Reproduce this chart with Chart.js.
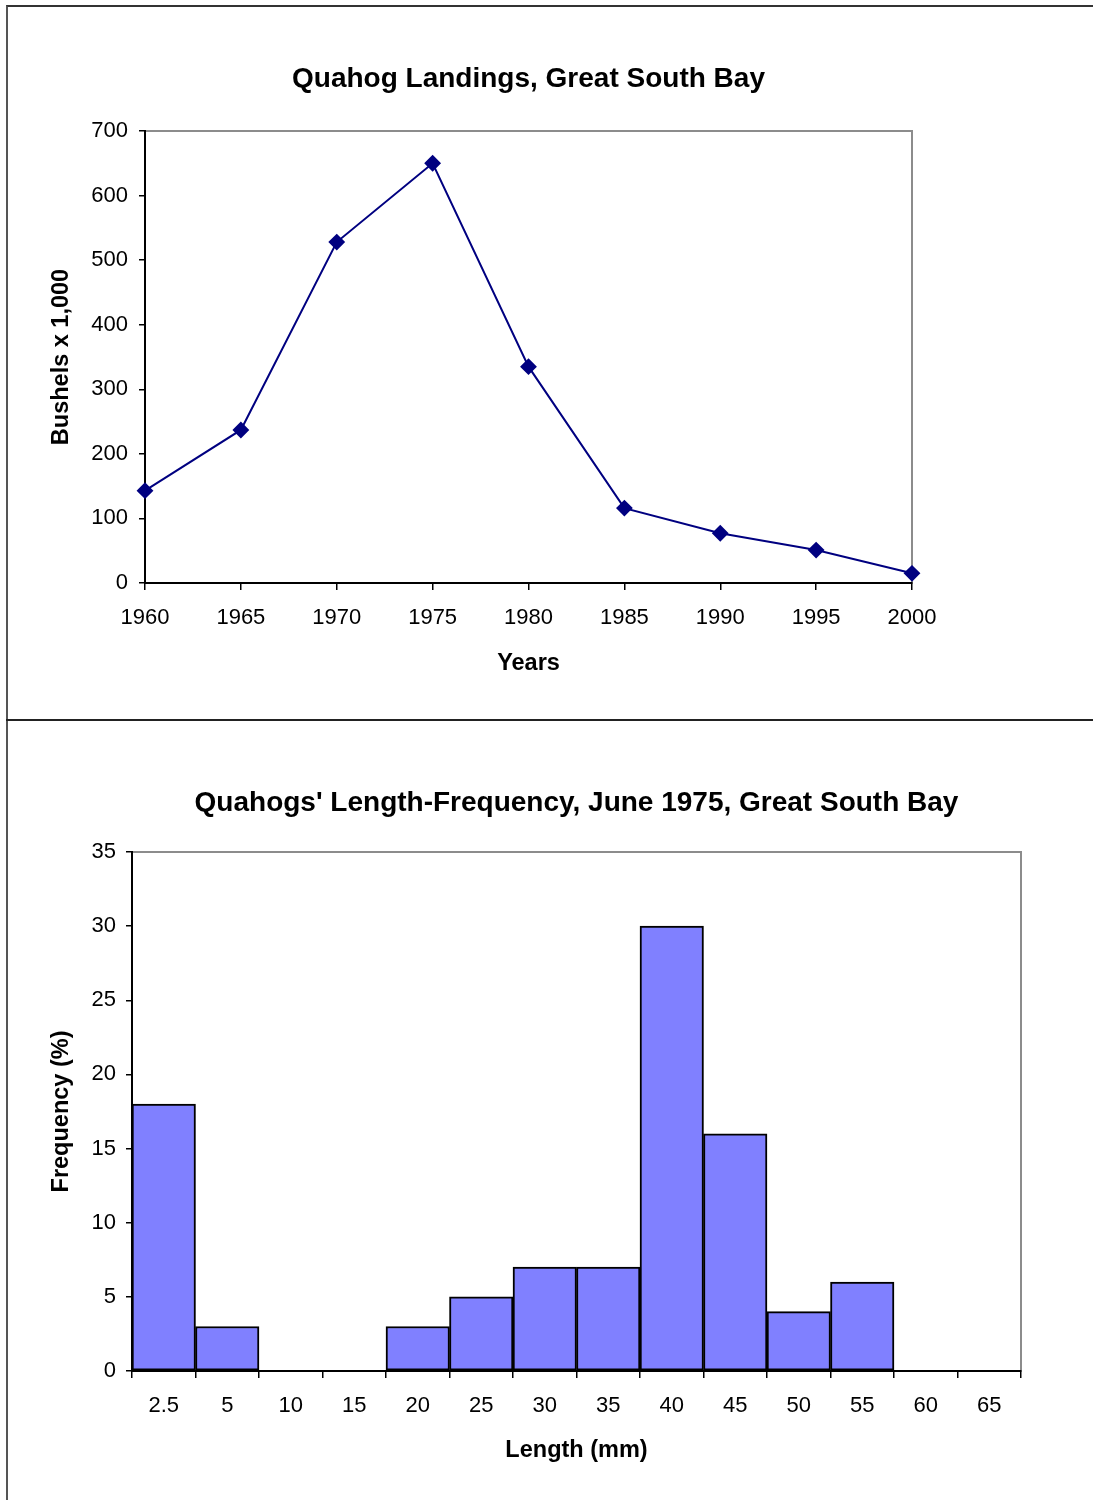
<!DOCTYPE html>
<html>
<head>
<meta charset="utf-8">
<script src="https://cdn.jsdelivr.net/npm/chart.js@4"></script>
<style>
  html, body { margin: 0; padding: 0; background: #fff; }
  body { width: 1093px; height: 1500px; position: relative; overflow: hidden; }
  .frame { position: absolute; left: 6px; top: 5px; width: 1100px; height: 1500px;
           border-top: 2px solid #333; border-left: 2px solid #555; box-sizing: border-box; }
  .divider { position: absolute; left: 6px; top: 719px; width: 1100px; height: 0;
             border-top: 2px solid #222; }
  canvas { position: absolute; left: 0; }
  #landings { top: 0; }
  #lengths { top: 720px; }
</style>
</head>
<body>
<div class="frame"></div>
<div class="divider"></div>
<canvas id="landings" width="1093" height="720"></canvas>
<canvas id="lengths" width="1093" height="780"></canvas>
<script>
// Landings per year (bushels x 1,000)
const years = ["1960", "1965", "1970", "1975", "1980", "1985", "1990", "1995", "2000"]
const landings = [143, 237, 528, 650, 335, 116, 77, 51, 15]

// Length-frequency, June 1975
const lengthBins = ["2.5", "5", "10", "15", "20", "25", "30", "35", "40", "45", "50", "55", "60", "65"]
const frequency = [18, 3, 0, 0, 3, 5, 7, 7, 30, 16, 4, 6, 0, 0]

const FONT = "'Liberation Sans', Arial, sans-serif"

// grey box round the plot area, axes are drawn over it in black
const plotFrame = {
  id: "plotFrame",
  beforeDraw(chart) {
    const { ctx, chartArea: a } = chart
    ctx.save()
    ctx.strokeStyle = "#8c8c8c"
    ctx.lineWidth = 2
    ctx.strokeRect(a.left, a.top, a.right - a.left, a.bottom - a.top)
    ctx.restore()
  }
}

function axisTitle(text, padding) {
  return { display: true, text, color: "#000", font: { family: FONT, size: 23.5, weight: "bold" }, padding }
}

function tickFont() {
  return { family: FONT, size: 22 }
}

new Chart(document.getElementById("landings"), {
  type: "line",
  data: {
    labels: years,
    datasets: [{
      data: landings,
      borderColor: "#000080",
      backgroundColor: "#000080",
      borderWidth: 2,
      pointStyle: "rectRot",
      pointRadius: 7,
      pointHoverRadius: 7,
      tension: 0,
      clip: false
    }]
  },
  options: {
    responsive: false,
    animation: false,
    layout: { padding: { top: 62, right: 181, bottom: 0, left: 0 } },
    plugins: {
      legend: { display: false },
      tooltip: { enabled: false },
      title: {
        display: true,
        fullSize: false,
        text: "Quahog Landings, Great South Bay",
        color: "#000",
        font: { family: FONT, size: 28, weight: "bold" },
        padding: { top: 0, bottom: 35.4 }
      }
    },
    scales: {
      x: {
        offset: false,
        afterFit: s => { s.height = 137 },
        grid: { drawOnChartArea: false, tickLength: 7, color: "#000", lineWidth: 1.5 },
        border: { color: "#000", width: 2 },
        ticks: { color: "#000", font: tickFont(), padding: 14.8, maxRotation: 0, autoSkip: false },
        title: axisTitle("Years", { top: 0, bottom: 41.9 })
      },
      y: {
        min: 0,
        max: 700,
        afterFit: s => { s.width = 145 },
        grid: { drawOnChartArea: false, tickLength: 6, color: "#000", lineWidth: 1.5 },
        border: { color: "#000", width: 2 },
        ticks: { stepSize: 100, color: "#000", font: tickFont(), padding: 11 },
        title: axisTitle("Bushels x 1,000", { top: 47.9, bottom: 0 })
      }
    }
  },
  plugins: [plotFrame]
})

new Chart(document.getElementById("lengths"), {
  type: "bar",
  data: {
    labels: lengthBins,
    datasets: [{
      data: frequency,
      backgroundColor: "#8080ff",
      borderColor: "#000",
      borderWidth: 2,
      borderSkipped: false,
      barPercentage: 1,
      categoryPercentage: 1
    }]
  },
  options: {
    responsive: false,
    animation: false,
    layout: { padding: { top: 66, right: 72, bottom: 0, left: 0 } },
    plugins: {
      legend: { display: false },
      tooltip: { enabled: false },
      title: {
        display: true,
        fullSize: false,
        text: "Quahogs' Length-Frequency, June 1975, Great South Bay",
        color: "#000",
        font: { family: FONT, size: 28, weight: "bold" },
        padding: { top: 0, bottom: 32.4 }
      }
    },
    scales: {
      x: {
        afterFit: s => { s.height = 129 },
        grid: { offset: true, drawOnChartArea: false, tickLength: 7, color: "#000", lineWidth: 1.5 },
        border: { color: "#000", width: 2 },
        ticks: { color: "#000", font: tickFont(), padding: 14.8, maxRotation: 0, autoSkip: false },
        title: axisTitle("Length (mm)", { top: 0, bottom: 34.9 })
      },
      y: {
        min: 0,
        max: 35,
        afterFit: s => { s.width = 132 },
        grid: { drawOnChartArea: false, tickLength: 6, color: "#000", lineWidth: 1.5 },
        border: { color: "#000", width: 2 },
        ticks: { stepSize: 5, color: "#000", font: tickFont(), padding: 10 },
        title: axisTitle("Frequency (%)", { top: 47.9, bottom: 0 })
      }
    }
  },
  plugins: [plotFrame]
})
</script>
</body>
</html>
